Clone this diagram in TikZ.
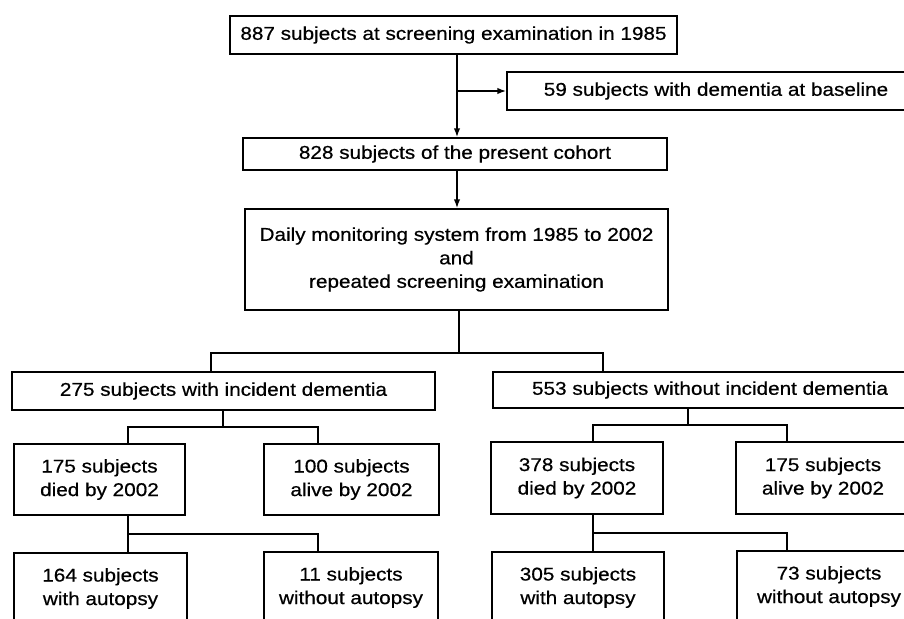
\documentclass[tikz,border=0pt]{standalone}
\usepackage{fontspec}
\setmainfont{Liberation Sans}[FakeStretch=1.12,FakeBold=0.6]
\usetikzlibrary{arrows.meta,calc}
\begin{document}
\begin{tikzpicture}[x=1pt,y=-1pt,
  box/.style={draw,line width=1.5pt,inner sep=0pt,align=center,
    font=\fontsize{18.5}{23.5}\selectfont},
  link/.style={line width=1.5pt},
  arr/.style={line width=1.5pt,-{Latex[length=9pt,width=6.5pt]}}]
\useasboundingbox (0,0) rectangle (904,618);
\clip (0,0) rectangle (904,618);
\fill[white] (0,0) rectangle (904,618);
% boxes (centre, width, height)
\node[box,minimum width=447pt,minimum height=38pt] (top) at (453.5,35) {887 subjects at screening examination in 1985};
\node[box,minimum width=418pt,minimum height=38pt] (b59) at (716,91) {59 subjects with dementia at baseline};
\node[box,minimum width=424pt,minimum height=32pt] (b828) at (455,154) {828 subjects of the present cohort};
\node[box,minimum width=423pt,minimum height=101pt] (daily) at (456.5,259.5) {Daily monitoring system from 1985 to 2002\\and\\repeated screening examination};
\node[box,minimum width=423pt,minimum height=38pt] (b275) at (223.5,391) {275 subjects with incident dementia};
\node[box,minimum width=434pt,minimum height=36pt] (b553) at (710,390) {553 subjects without incident dementia};
\node[box,minimum width=171pt,minimum height=71pt] (d175) at (99.5,479.5) {175 subjects\\died by 2002};
\node[box,minimum width=175pt,minimum height=71pt] (a100) at (351.5,479.5) {100 subjects\\alive by 2002};
\node[box,minimum width=173pt,minimum height=71pt] (a164) at (100.5,588.5) {164 subjects\\with autopsy};
\node[box,minimum width=174pt,minimum height=71pt] (w11) at (351,587.5) {11 subjects\\without autopsy};
\node[box,minimum width=172pt,minimum height=72pt] (d378) at (577,478) {378 subjects\\died by 2002};
\node[box,minimum width=174pt,minimum height=72pt] (a175) at (823,478) {175 subjects\\alive by 2002};
\node[box,minimum width=172pt,minimum height=71pt] (a305) at (578,587.5) {305 subjects\\with autopsy};
\node[box,minimum width=184pt,minimum height=71pt] (w73) at (829,586.5) {73 subjects\\without autopsy};
% junctions
\coordinate (j1) at (457,91);
\coordinate (j2) at (459,353);
\coordinate (jL) at (211,353);
\coordinate (jR) at (603,353);
\coordinate (k1) at (223,427);
\coordinate (k1l) at (128,427);
\coordinate (k1r) at (318,427);
\coordinate (k2l) at (128,534);
\coordinate (k2r) at (318,534);
\coordinate (m1) at (688,425);
\coordinate (m1l) at (593,425);
\coordinate (m1r) at (787,425);
\coordinate (m2l) at (593,533);
\coordinate (m2r) at (787,533);
% connectors
\draw[arr] (top.south -| j1) -- (b828.north -| j1);
\draw[arr] (j1) -- (b59.west |- j1);
\draw[arr] (b828.south -| j1) -- (daily.north -| j1);
\draw[link] (daily.south -| j2) -- (j2);
\draw[link] (b275.north -| jL) -- (jL) -- (jR) -- (b553.north -| jR);
\draw[link] (b275.south -| k1) -- (k1);
\draw[link] (d175.north -| k1l) -- (k1l) -- (k1r) -- (a100.north -| k1r);
\draw[link] (d175.south -| k2l) -- (k2l) -- (k2r) -- (w11.north -| k2r);
\draw[link] (a164.north -| k2l) -- (k2l);
\draw[link] (b553.south -| m1) -- (m1);
\draw[link] (d378.north -| m1l) -- (m1l) -- (m1r) -- (a175.north -| m1r);
\draw[link] (d378.south -| m2l) -- (m2l) -- (m2r) -- (w73.north -| m2r);
\draw[link] (a305.north -| m2l) -- (m2l);
\end{tikzpicture}
\end{document}
